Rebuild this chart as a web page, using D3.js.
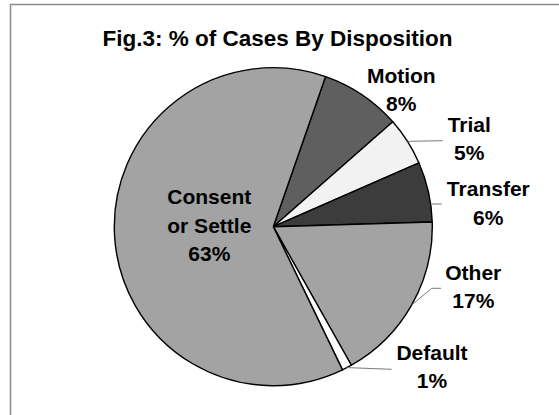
<!DOCTYPE html>
<html>
<head>
<meta charset="utf-8">
<script src="https://cdn.jsdelivr.net/npm/d3@7"></script>
<style>
  html, body { margin: 0; padding: 0; background: #fff; }
  svg { display: block; font-family: "Liberation Sans", Arial, sans-serif; font-weight: bold; }
</style>
</head>
<body>
<script>
// data, in pie order (clockwise from the first slice)
const names = ["Motion", "Trial", "Transfer", "Other", "Default", "Consent or Settle"];
const shares = [8.2, 4.9, 6.1, 17.3, 1.0, 62.5];
const colors = ["#5f5f5f", "#f2f2f2", "#3c3c3c", "#a3a3a3", "#ffffff", "#a3a3a3"];

const width = 559, height = 415;
const cx = 273.3, cy = 226.7, radius = 159;
const lineH = 28.5;

// label placement relative to the pie centre (dx = text centre, dy = first baseline)
const labelPos = [
  { dx: 128, dy: -144 },
  { dx: 196, dy: -95, leader: [[169.4, -86]] },
  { dx: 215, dy: -30.7, leader: [[168.4, -22.7]], at: 81.8 },
  { dx: 200, dy: 53.3, leader: [[158.4, 61.6], [167.7, 61.6]] },
  { dx: 158.7, dy: 133.3, leader: [[118.4, 142.6]] },
  { dx: -64, dy: -22.7, lines: ["Consent", "or Settle"] }
];

const svg = d3.select("body").append("svg")
  .attr("width", width).attr("height", height);

// chart frame (runs off the right and bottom of the picture)
svg.append("rect")
  .attr("x", 10.5).attr("y", 4.5)
  .attr("width", 700).attr("height", 600)
  .attr("fill", "none")
  .attr("stroke", "#8c8c8c")
  .attr("stroke-width", 1.5);

svg.append("text")
  .attr("x", 277.5).attr("y", 46)
  .attr("text-anchor", "middle")
  .attr("font-size", "22.5px")
  .attr("fill", "#000")
  .text("Fig.3: % of Cases By Disposition");

const pie = d3.pie()
  .value(d => d)
  .sort(null)
  .startAngle(19.2 * Math.PI / 180)
  .endAngle(19.2 * Math.PI / 180 + 2 * Math.PI);

const arcs = pie(shares);
const arc = d3.arc().innerRadius(0).outerRadius(radius);

const g = svg.append("g").attr("transform", "translate(" + cx + "," + cy + ")");

g.selectAll("path.slice")
  .data(arcs)
  .enter()
  .append("path")
  .attr("class", "slice")
  .attr("d", arc)
  .attr("fill", (d, i) => colors[i])
  .attr("stroke", "#000")
  .attr("stroke-width", 1.4)
  .attr("stroke-linejoin", "round");

// leader lines from the rim to the labels
arcs.forEach((d, i) => {
  const p = labelPos[i];
  if (!p.leader) return;
  const a = p.at !== undefined ? p.at * Math.PI / 180 : (d.startAngle + d.endAngle) / 2;
  const pts = [[radius * Math.sin(a), -radius * Math.cos(a)]].concat(p.leader);
  g.append("path")
    .attr("d", d3.line()(pts))
    .attr("fill", "none")
    .attr("stroke", "#7a7a7a")
    .attr("stroke-width", 1);
});

// labels
arcs.forEach((d, i) => {
  const p = labelPos[i];
  const lines = (p.lines || [names[i]]).concat([Math.round(shares[i]) + "%"]);
  const t = g.append("text")
    .attr("text-anchor", "middle")
    .attr("font-size", "21px")
    .attr("fill", "#000");
  lines.forEach((s, k) => {
    t.append("tspan")
      .attr("x", p.dx)
      .attr("y", p.dy + k * lineH)
      .text(s);
  });
});
</script>
</body>
</html>
